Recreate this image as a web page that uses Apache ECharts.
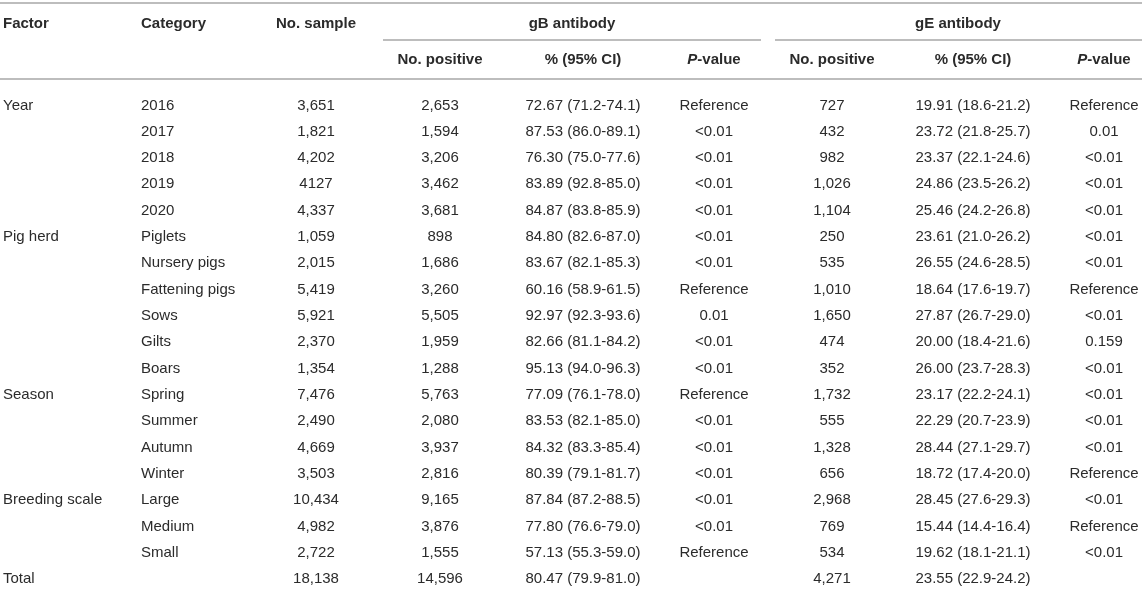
<!DOCTYPE html>
<html>
<head>
<meta charset="utf-8">
<script src="https://cdn.jsdelivr.net/npm/echarts@6/dist/echarts.min.js"></script>
<style>
html,body{margin:0;padding:0;background:#fff;}
#main{width:1142px;height:589px;}
</style>
</head>
<body>
<div id="main"></div>
<script>
// ---- data ----
const factorLabels = ['Year','','','','','Pig herd','','','','','','Season','','','','Breeding scale','','','Total'];
const categories = ['2016','2017','2018','2019','2020','Piglets','Nursery pigs','Fattening pigs','Sows','Gilts','Boars','Spring','Summer','Autumn','Winter','Large','Medium','Small',''];
const nSample = ['3,651','1,821','4,202','4127','4,337','1,059','2,015','5,419','5,921','2,370','1,354','7,476','2,490','4,669','3,503','10,434','4,982','2,722','18,138'];
const gbPositive = ['2,653','1,594','3,206','3,462','3,681','898','1,686','3,260','5,505','1,959','1,288','5,763','2,080','3,937','2,816','9,165','3,876','1,555','14,596'];
const gbPercent = ['72.67 (71.2-74.1)','87.53 (86.0-89.1)','76.30 (75.0-77.6)','83.89 (92.8-85.0)','84.87 (83.8-85.9)','84.80 (82.6-87.0)','83.67 (82.1-85.3)','60.16 (58.9-61.5)','92.97 (92.3-93.6)','82.66 (81.1-84.2)','95.13 (94.0-96.3)','77.09 (76.1-78.0)','83.53 (82.1-85.0)','84.32 (83.3-85.4)','80.39 (79.1-81.7)','87.84 (87.2-88.5)','77.80 (76.6-79.0)','57.13 (55.3-59.0)','80.47 (79.9-81.0)'];
const gbPValue = ['Reference','<0.01','<0.01','<0.01','<0.01','<0.01','<0.01','Reference','0.01','<0.01','<0.01','Reference','<0.01','<0.01','<0.01','<0.01','<0.01','Reference',''];
const gePositive = ['727','432','982','1,026','1,104','250','535','1,010','1,650','474','352','1,732','555','1,328','656','2,968','769','534','4,271'];
const gePercent = ['19.91 (18.6-21.2)','23.72 (21.8-25.7)','23.37 (22.1-24.6)','24.86 (23.5-26.2)','25.46 (24.2-26.8)','23.61 (21.0-26.2)','26.55 (24.6-28.5)','18.64 (17.6-19.7)','27.87 (26.7-29.0)','20.00 (18.4-21.6)','26.00 (23.7-28.3)','23.17 (22.2-24.1)','22.29 (20.7-23.9)','28.44 (27.1-29.7)','18.72 (17.4-20.0)','28.45 (27.6-29.3)','15.44 (14.4-16.4)','19.62 (18.1-21.1)','23.55 (22.9-24.2)'];
const gePValue = ['Reference','0.01','<0.01','<0.01','<0.01','<0.01','<0.01','Reference','<0.01','0.159','<0.01','<0.01','<0.01','<0.01','Reference','<0.01','Reference','<0.01',''];
const headerTop = ['Factor','Category','No. sample','gB antibody','gE antibody'];
const headerSub = ['No. positive','% (95% CI)','P-value','No. positive','% (95% CI)','P-value'];

// ---- layout ----
const W = 1142;
const FONT = '"Liberation Sans", Arial, sans-serif';
const TXT = '#2b2b2b';
const RULE = '#bdbdbd';
const FS = 15;
// column anchor (x) and alignment
const columns = [
  {vals: factorLabels, x: 3,    align: 'left'},
  {vals: categories,   x: 141,  align: 'left'},
  {vals: nSample,      x: 316,  align: 'center'},
  {vals: gbPositive,   x: 440,  align: 'center'},
  {vals: gbPercent,    x: 583,  align: 'center'},
  {vals: gbPValue,     x: 714,  align: 'center'},
  {vals: gePositive,   x: 832,  align: 'center'},
  {vals: gePercent,    x: 973,  align: 'center'},
  {vals: gePValue,     x: 1104, align: 'center'}
];
const rowIds = categories.map((c, i) => String(i));

const series = columns.map(col => ({
  type: 'custom',
  silent: true,
  data: col.vals.map((v, i) => [col.x, i]),
  renderItem: function (params, api) {
    const p = api.coord([api.value(0), api.value(1)]);
    return {
      type: 'text',
      x: p[0], y: p[1],
      style: {
        text: col.vals[params.dataIndex],
        fill: TXT, font: FS + 'px ' + FONT,
        align: col.align, verticalAlign: 'middle'
      }
    };
  }
}));

function hText(t, x, y, align) {
  if (t === 'P-value') {
    return {type: 'text', x: x, y: y, style: {
      rich: {i: {fontStyle: 'italic', fontWeight: 'bold', fontSize: FS, fontFamily: FONT, fill: TXT},
             b: {fontWeight: 'bold', fontSize: FS, fontFamily: FONT, fill: TXT}},
      text: '{i|P}{b|-value}', align: align, verticalAlign: 'middle'}};
  }
  return {type: 'text', x: x, y: y, style: {text: t, fill: TXT,
    font: 'bold ' + FS + 'px ' + FONT, align: align, verticalAlign: 'middle'}};
}
function rule(x1, x2, y) {
  return {type: 'line', shape: {x1: x1, y1: y, x2: x2, y2: y},
    style: {stroke: RULE, lineWidth: 2}};
}
const H1 = 24, H2 = 60;
const graphics = [
  rule(0, W, 3),
  hText(headerTop[0], columns[0].x, H1, 'left'),
  hText(headerTop[1], columns[1].x, H1, 'left'),
  hText(headerTop[2], columns[2].x, H1, 'center'),
  hText(headerTop[3], 572, H1, 'center'),
  hText(headerTop[4], 958, H1, 'center'),
  rule(383, 761, 40),
  rule(775, W, 40),
  hText(headerSub[0], columns[3].x, H2, 'center'),
  hText(headerSub[1], columns[4].x, H2, 'center'),
  hText(headerSub[2], columns[5].x, H2, 'center'),
  hText(headerSub[3], columns[6].x, H2, 'center'),
  hText(headerSub[4], columns[7].x, H2, 'center'),
  hText(headerSub[5], columns[8].x, H2, 'center'),
  rule(0, W, 79)
];

const chart = echarts.init(document.getElementById('main'), null, {renderer: 'canvas'});
chart.setOption({
  animation: false,
  backgroundColor: '#fff',
  grid: {left: 0, right: 0, top: 105.4, height: 473.6, containLabel: false},
  xAxis: {type: 'value', min: 0, max: W, show: false},
  yAxis: {type: 'category', data: rowIds, inverse: true, boundaryGap: false, show: false},
  series: series,
  graphic: graphics
});
</script>
</body>
</html>
